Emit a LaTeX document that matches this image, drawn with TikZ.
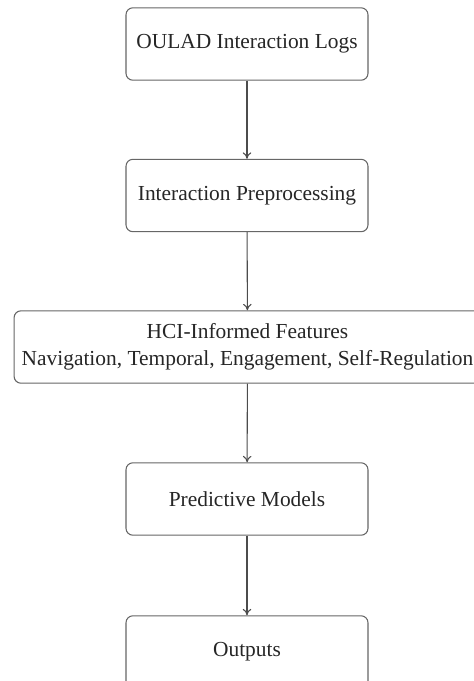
\documentclass[tikz,border=0pt]{standalone}
\usepackage{fontspec}
\setmainfont{Liberation Serif}
\usetikzlibrary{arrows.meta}
\begin{document}
\begin{tikzpicture}[x=0.467pt,y=-0.467pt,
  stagebox/.style={draw=black!60, line width=0.5pt, rounded corners=3.2pt, fill=white,
    minimum width=113pt, minimum height=33.8pt, align=center, inner sep=1.5pt,
    text=black!85, font=\fontsize{10}{12.6}\selectfont},
  flow/.style={-{To[length=3pt,width=4pt]}, draw=black!70, line width=0.5pt}]
\useasboundingbox (0,0) rectangle (474,681);
\clip (0,0) rectangle (474,681);
\node[stagebox] (logs) at (247,44) {OULAD Interaction Logs};
\node[stagebox] (prep) at (247,195.5) {Interaction Preprocessing};
\node[stagebox, minimum width=218pt] (feat) at (247.5,347) {HCI-Informed Features\\Navigation, Temporal, Engagement, Self-Regulation};
\node[stagebox] (models) at (247,499) {Predictive Models};
\node[stagebox] (out) at (247,652) {Outputs};
\draw[flow] (logs) -- (prep);
\draw[flow] (prep) -- (feat);
\draw[flow] (feat) -- (models);
\draw[flow] (models) -- (out);
\end{tikzpicture}
\end{document}
